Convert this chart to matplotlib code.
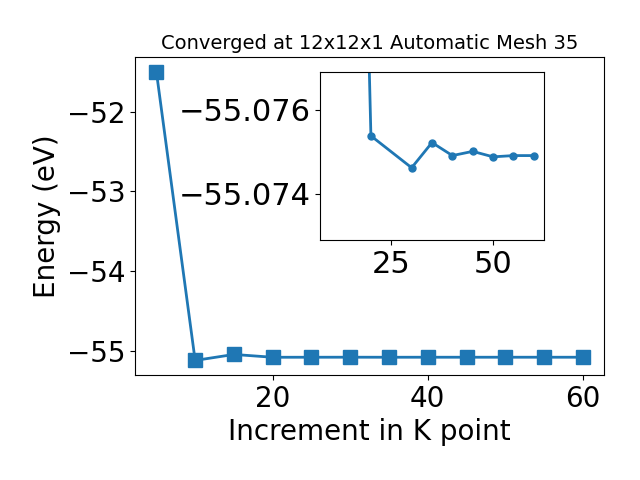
import matplotlib
matplotlib.use('Agg')
import matplotlib.pyplot as plt

#k point increments and total energies (eV)
kpoints = [5, 10, 15, 20, 25, 30, 35, 40, 45, 50, 55, 60]
energy = [-51.50, -55.115, -55.04, -55.07533, -55.0750, -55.07457, -55.07517,
          -55.07486, -55.07496, -55.07483, -55.07486, -55.07486]

#points used for the zoomed inset
insetK = [10, 20, 30, 35, 40, 45, 50, 55, 60]
insetE = [-55.115, -55.07538, -55.07462, -55.07522, -55.07491, -55.07501,
          -55.07488, -55.07491, -55.07491]

fig = plt.figure(figsize=(6.4, 4.8), dpi=100)
ax = fig.add_subplot(111)
fig.subplots_adjust(left=0.211, right=0.944, top=0.881, bottom=0.219)

ax.plot(kpoints, energy, marker='s', markersize=10, linewidth=2, color='tab:blue')
ax.set_xlabel('Increment in K point', fontsize=20)
ax.set_ylabel('Energy (eV)', fontsize=20)
ax.set_title('Converged at 12x12x1 Automatic Mesh 35', fontsize=14)
ax.tick_params(labelsize=20)

#inset zoomed on the converged region
axIn = fig.add_axes([0.5, 0.5, 0.35, 0.35])
axIn.plot(insetK, insetE, marker='o', markersize=5, linewidth=2, color='tab:blue')
axIn.set_ylim(-55.0729, -55.0769)
axIn.set_xticks([25, 50])
axIn.set_yticks([-55.076, -55.074])
axIn.ticklabel_format(axis='y', useOffset=False)
axIn.tick_params(labelsize=22)

plt.savefig('out.png', dpi=100)
